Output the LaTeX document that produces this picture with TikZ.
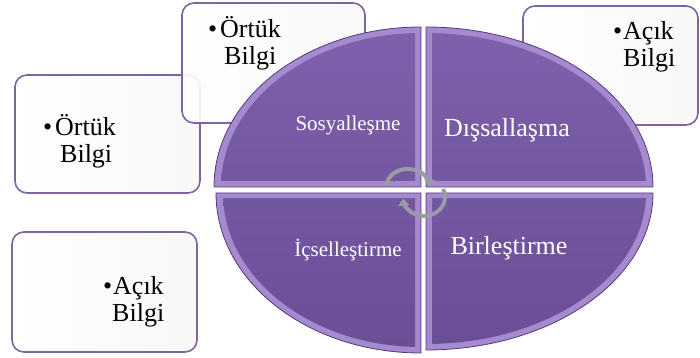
\documentclass[tikz,border=0pt]{standalone}
\usepackage{fontspec}
\setmainfont{Liberation Serif}
\usepackage{xcolor}
\definecolor{kbline}{RGB}{128,100,162}
\definecolor{kbface}{RGB}{126,96,172}
\definecolor{kbfacedark}{RGB}{106,78,150}
\definecolor{kbbevel}{RGB}{165,138,208}
\definecolor{kbedge}{RGB}{82,58,120}
\definecolor{kbarrow}{RGB}{155,155,165}
\usetikzlibrary{arrows.meta, positioning}

\tikzset{
  infobox/.style={draw=kbline, line width=1.6pt, rounded corners=12pt,
    left color=white, right color=black!3, inner sep=0pt},
  boxtext/.style={font=\fontsize{26}{27}\selectfont, align=left,
    anchor=base west, inner sep=0pt},
  quadbevel/.style={fill=kbbevel},
  quadface/.style={top color=kbface, bottom color=kbfacedark},
  quadedge/.style={draw=kbedge, line width=0.8pt},
  smalllabel/.style={font=\fontsize{21}{24}\selectfont, text=white},
  biglabel/.style={font=\fontsize{26}{28}\selectfont, text=white},
  cyclearrow/.style={draw=kbarrow, line width=4pt, -{Triangle[width=11pt,length=7pt]}}
}

\begin{document}
\begin{tikzpicture}[x=1pt, y=1pt]
  \useasboundingbox (0,0) rectangle (700,358);

  % Info boxes
  \node[infobox, minimum width=185pt, minimum height=118pt] (boxC) at (107.5,224) {};
  \node[infobox, minimum width=183pt, minimum height=120pt, fill opacity=0.9] (boxA) at (273.5,295) {};
  \node[infobox, minimum width=175pt, minimum height=119pt] (boxB) at (610.5,292.5) {};
  \node[infobox, minimum width=185pt, minimum height=120pt] (boxD) at (104.5,66) {};

  % Quadrant 1 - top left
  \fill[quadbevel] (421,171) -- (214,171) arc[start angle=180, end angle=90, x radius=207, y radius=160] -- cycle;
  \begin{scope}
    \clip (0,177) rectangle (415,358);
    \shade[quadface] (421,171) ellipse [x radius=200, y radius=154];
  \end{scope}
  \draw[quadedge] (421,171) -- (214,171) arc[start angle=180, end angle=90, x radius=207, y radius=160] -- cycle;

  % Quadrant 2 - top right
  \fill[quadbevel] (426,171) -- (653,171) arc[start angle=0, end angle=90, x radius=227, y radius=160] -- cycle;
  \begin{scope}
    \clip (432,177) rectangle (700,358);
    \shade[quadface] (426,171) ellipse [x radius=220, y radius=154];
  \end{scope}
  \draw[quadedge] (426,171) -- (653,171) arc[start angle=0, end angle=90, x radius=227, y radius=160] -- cycle;

  % Quadrant 3 - bottom left
  \fill[quadbevel] (421,165) -- (216,165) arc[start angle=180, end angle=270, x radius=205, y radius=160] -- cycle;
  \begin{scope}
    \clip (0,0) rectangle (415,159);
    \shade[quadface] (421,165) ellipse [x radius=198, y radius=154];
  \end{scope}
  \draw[quadedge] (421,165) -- (216,165) arc[start angle=180, end angle=270, x radius=205, y radius=160] -- cycle;

  % Quadrant 4 - bottom right
  \fill[quadbevel] (426,165) -- (653,165) arc[start angle=0, end angle=-90, x radius=227, y radius=157] -- cycle;
  \begin{scope}
    \clip (432,0) rectangle (700,159);
    \shade[quadface] (426,165) ellipse [x radius=220, y radius=151];
  \end{scope}
  \draw[quadedge] (426,165) -- (653,165) arc[start angle=0, end angle=-90, x radius=227, y radius=157] -- cycle;

  % Cycle arrows
  \draw[cyclearrow] (387,173) arc[start angle=180, end angle=-5, x radius=21, y radius=16];
  \draw[cyclearrow] (443,169) arc[start angle=25, end angle=-175, x radius=21, y radius=19];

  % Quadrant labels
  \node[smalllabel] (sosyal) at (348,233) {Sosyalleşme};
  \node[biglabel] (dissal) at (507,228) {Dışsallaşma};
  \node[smalllabel] (icsel) at (348,108) {İçselleştirme};
  \node[biglabel] (birles) at (509,110) {Birleştirme};

  % Box texts
  \node[boxtext] (textA) at (208,293) {\makebox[12pt][l]{•}Örtük\\\hspace*{16pt}Bilgi};
  \node[boxtext] (textB) at (613,291) {\makebox[10pt][l]{•}Açık\\\hspace*{10pt}Bilgi};
  \node[boxtext] (textC) at (43,195) {\makebox[12pt][l]{•}Örtük\\\hspace*{17pt}Bilgi};
  \node[boxtext] (textD) at (103,36) {\makebox[10pt][l]{•}Açık\\\hspace*{9pt}Bilgi};
\end{tikzpicture}
\end{document}
